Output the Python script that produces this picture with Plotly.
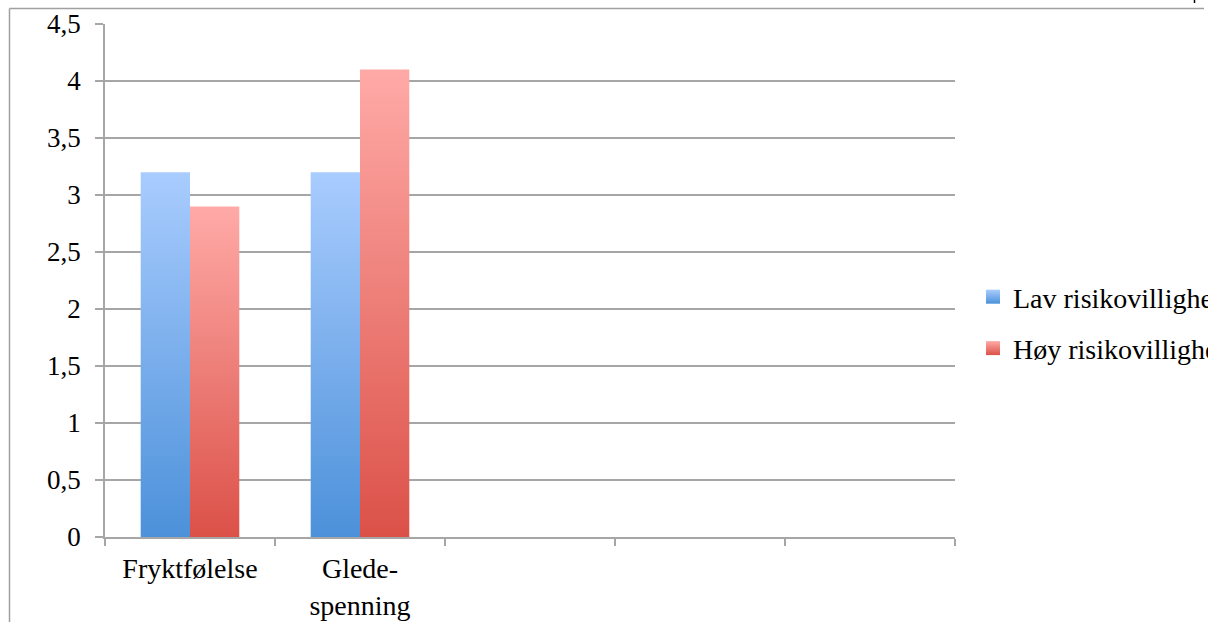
import plotly.graph_objects as go

# Chart data
categories = ["Fryktfølelse", "Glede-<br>spenning", "", "", ""]
series_names = ["Lav risikovillighet", "Høy risikovillighet"]
lav_values = [3.2, 3.2, None, None, None]
hoy_values = [2.9, 4.1, None, None, None]
y_ticks = [0, 0.5, 1, 1.5, 2, 2.5, 3, 3.5, 4, 4.5]

# Styling
W, H = 1208, 622
M_L, M_R, M_T, M_B = 105, 253, 24, 85
FONT = "Liberation Serif"
GRID = "#A6A6A6"
BAR_W = 0.29
blue_top, blue_bottom = "#A9CCFE", "#4C91DA"
red_top, red_bottom = "#FFAAA7", "#DB5148"

pw, ph = W - M_L - M_R, H - M_T - M_B


def px_x(p):
    return (p - M_L) / pw


def px_y(p):
    return (H - M_B - p) / ph


fig = go.Figure()


def add_bars(values, offset, top, bottom):
    for i, v in enumerate(values):
        if v is None:
            continue
        x0 = i + offset
        x1 = x0 + BAR_W
        fig.add_trace(go.Scatter(
            x=[x0, x1, x1, x0, x0],
            y=[0, 0, v, v, 0],
            mode="none",
            fill="toself",
            fillgradient=dict(type="vertical",
                              colorscale=[[0, bottom], [1, top]]),
            showlegend=False,
            hoverinfo="skip",
        ))


add_bars(lav_values, -BAR_W, blue_top, blue_bottom)
add_bars(hoy_values, 0, red_top, red_bottom)

# legend entries
for name, top, bottom, grp in [(series_names[0], blue_top, blue_bottom, "a"),
                               (series_names[1], red_top, red_bottom, "b")]:
    fig.add_trace(go.Scatter(
        x=[None], y=[None], mode="markers", name=name, legendgroup=grp,
        marker=dict(symbol="square", size=14, color=top,
                    line=dict(width=0),
                    gradient=dict(type="vertical", color=bottom)),
    ))

n = len(categories)
fig.update_layout(
    width=W, height=H,
    margin=dict(l=M_L, r=M_R, t=M_T, b=M_B, pad=0, autoexpand=False),
    paper_bgcolor="white", plot_bgcolor="white",
    font=dict(family=FONT, size=28, color="black"),
    separators=",.",
    showlegend=True,
    legend=dict(x=px_x(973), xanchor="left",
                y=px_y(322.5), yanchor="middle",
                tracegroupgap=12, font=dict(size=28, family=FONT),
                bgcolor="rgba(0,0,0,0)", itemclick=False),
    xaxis=dict(
        range=[-0.5, n - 0.5], tickmode="array",
        tickvals=list(range(n)), ticktext=categories,
        ticks="", showgrid=False, zeroline=False,
        showline=True, linecolor=GRID, linewidth=1.5,
        ticklabelstandoff=6,
        minor=dict(tickmode="array",
                   tickvals=[i - 0.5 for i in range(n + 1)],
                   ticks="outside", ticklen=7, tickcolor=GRID,
                   tickwidth=1.5, showgrid=False),
        fixedrange=True,
    ),
    yaxis=dict(
        range=[0, 4.5], tickmode="array", tickvals=y_ticks,
        ticks="outside", ticklen=8, tickcolor=GRID, tickwidth=1.5,
        showgrid=True, gridcolor=GRID, gridwidth=1.5,
        zeroline=False, showline=True, linecolor=GRID, linewidth=1.5,
        ticklabelstandoff=9, tickfont=dict(size=27), fixedrange=True,
    ),
)

# outer frame lines (left and top edges)
fig.add_shape(type="line", xref="paper", yref="paper",
              x0=px_x(9.5), x1=px_x(9.5), y0=px_y(8.5), y1=px_y(H + 2),
              line=dict(color="#A0A0A0", width=1.5))
fig.add_shape(type="line", xref="paper", yref="paper",
              x0=px_x(9.5), x1=px_x(1204), y0=px_y(8.5), y1=px_y(8.5),
              line=dict(color="#A0A0A0", width=1.5))
fig.add_shape(type="line", xref="paper", yref="paper",
              x0=px_x(1194.5), x1=px_x(1194.5), y0=px_y(0), y1=px_y(3),
              line=dict(color="black", width=1.5))

fig.write_html("out.html")
